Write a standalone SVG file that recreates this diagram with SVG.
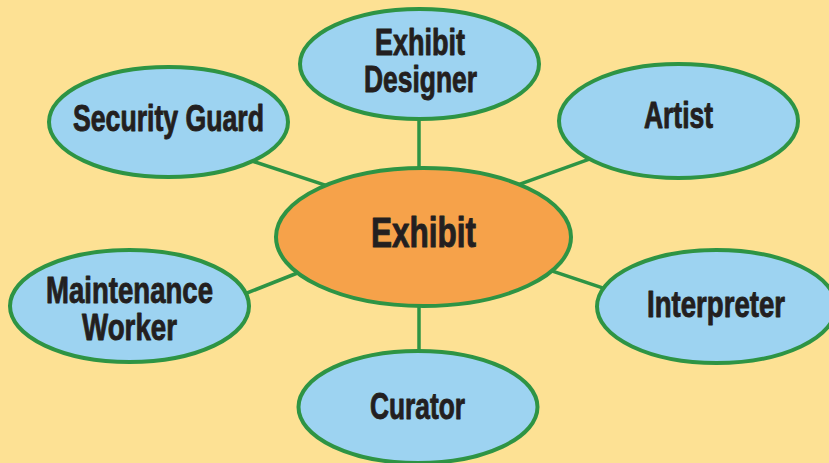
<svg xmlns="http://www.w3.org/2000/svg" width="829" height="463" viewBox="0 0 829 463">
  <style>
    .link { stroke: #2E9444; stroke-width: 3.5; fill: none; stroke-linecap: butt; }
    .role { fill: #9DD3F1; stroke: #2E9444; stroke-width: 4; }
    .hub { fill: #F6A24A; stroke: #2E9444; stroke-width: 4; }
    .lbl { font-family: "Liberation Sans", Arial, sans-serif; font-weight: bold; font-size: 36px; fill: #231F20; stroke: #231F20; stroke-width: 0.9; stroke-linejoin: round; text-anchor: middle; }
    .hublbl { font-size: 43px; stroke-width: 1; }
  </style>
  <rect x="0" y="0" width="829" height="463" fill="#FDE194"/>

  <g id="connectors">
    <line class="link" x1="419" y1="110" x2="419" y2="180"/>
    <line class="link" x1="419" y1="295" x2="419" y2="360"/>
    <line class="link" x1="245" y1="158.7" x2="332" y2="187.3"/>
    <line class="link" x1="597" y1="156.4" x2="513" y2="186.6"/>
    <line class="link" x1="237" y1="297" x2="305" y2="270"/>
    <line class="link" x1="545" y1="268.7" x2="613" y2="291.3"/>
  </g>

  <g id="exhibit-designer">
    <ellipse class="role" cx="419.5" cy="64" rx="119.5" ry="55"/>
    <text class="lbl" x="420" y="55" textLength="90" lengthAdjust="spacingAndGlyphs">Exhibit</text>
    <text class="lbl" x="420.5" y="92" textLength="113" lengthAdjust="spacingAndGlyphs">Designer</text>
  </g>

  <g id="security-guard">
    <ellipse class="role" cx="168.5" cy="122" rx="119.5" ry="55"/>
    <text class="lbl" x="168.5" y="131" textLength="191" lengthAdjust="spacingAndGlyphs">Security Guard</text>
  </g>

  <g id="artist">
    <ellipse class="role" cx="678.5" cy="121" rx="119.5" ry="57"/>
    <text class="lbl" x="678.5" y="128" textLength="69" lengthAdjust="spacingAndGlyphs">Artist</text>
  </g>

  <g id="exhibit">
    <ellipse class="hub" cx="423.5" cy="237" rx="147.5" ry="69"/>
    <text class="lbl hublbl" x="423.5" y="247" textLength="105" lengthAdjust="spacingAndGlyphs">Exhibit</text>
  </g>

  <g id="maintenance-worker">
    <ellipse class="role" cx="129.5" cy="306" rx="119.5" ry="56"/>
    <text class="lbl" x="129.5" y="303" textLength="167" lengthAdjust="spacingAndGlyphs">Maintenance</text>
    <text class="lbl" x="129.5" y="340" textLength="95" lengthAdjust="spacingAndGlyphs">Worker</text>
  </g>

  <g id="interpreter">
    <ellipse class="role" cx="716.5" cy="306.5" rx="119.5" ry="56.5"/>
    <text class="lbl" x="716" y="317" textLength="138" lengthAdjust="spacingAndGlyphs">Interpreter</text>
  </g>

  <g id="curator">
    <ellipse class="role" cx="418" cy="407" rx="119.5" ry="56"/>
    <text class="lbl" x="417.5" y="419" textLength="95" lengthAdjust="spacingAndGlyphs">Curator</text>
  </g>
</svg>
